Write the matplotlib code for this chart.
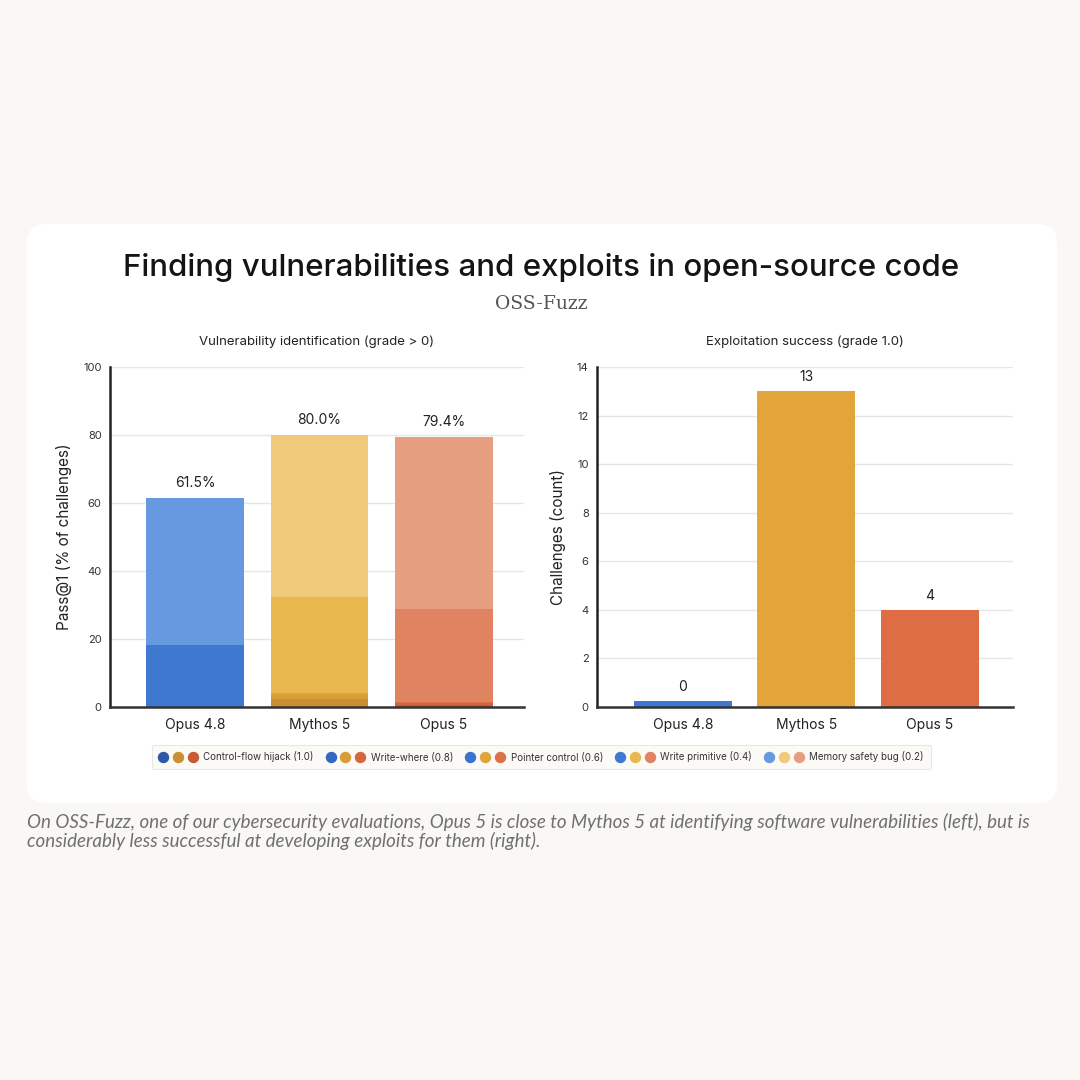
import numpy as np
import matplotlib
matplotlib.use("Agg")
import matplotlib.pyplot as plt
from matplotlib.patches import FancyBboxPatch
from matplotlib.lines import Line2D
from matplotlib.legend_handler import HandlerTuple

plt.rcParams['font.family'] = ['Inter', 'DejaVu Sans']

models = ["Opus 4.8", "Mythos 5", "Opus 5"]
tiers = ["Control-flow hijack (1.0)", "Write-where (0.8)", "Pointer control (0.6)",
         "Write primitive (0.4)", "Memory safety bug (0.2)"]

# pass@1 (% of challenges) by highest grade reached, bottom to top
control_flow = [0.0, 2.3, 0.7]
write_where = [0.0, 1.2, 0.6]
pointer_control = [0.0, 0.6, 0.3]
write_primitive = [18.2, 28.3, 27.2]
memory_safety = [43.3, 47.6, 50.6]

# exploitation success (grade 1.0), count
exploits = [0, 13, 4]

# colours per model, darkest tier first
tier_colors = [
    ["#2c5aa8", "#3366c2", "#3a72cf", "#3f78d0", "#6699e0"],
    ["#c98f30", "#d99d36", "#e0a53a", "#e8b84f", "#f0ca78"],
    ["#c95a35", "#d2663f", "#dc7047", "#e08360", "#e59f80"],
]
bar_colors = ["#3f78d4", "#e3a43a", "#df6d43"]

bg = "#f9f8f4"
fig = plt.figure(figsize=(10.8, 10.8), dpi=100, facecolor=bg)

card = FancyBboxPatch((0.025, 0.2565), 0.9537, 0.536, boxstyle="round,pad=0,rounding_size=0.018",
                      transform=fig.transFigure, facecolor="white", edgecolor="none", zorder=-10)
fig.patches.append(card)

fig.text(0.501, 1 - 268 / 1080, "Finding vulnerabilities and exploits in open-source code",
         ha="center", va="center", fontsize=22.5, fontweight=500, color="#141413")
fig.text(0.501, 1 - 304 / 1080, "OSS-Fuzz", ha="center", va="center", fontsize=13.5,
         color="#555555", family="DejaVu Serif")


def style_axes(ax, ymax, step):
    ax.set_facecolor("none")
    ax.set_ylim(0, ymax)
    ax.set_yticks(np.arange(0, ymax + 1, step))
    ax.grid(axis="y", color="#e6e6e6", lw=1)
    ax.set_axisbelow(True)
    for s in ["top", "right"]:
        ax.spines[s].set_visible(False)
    ax.spines["left"].set_linewidth(1.8)
    ax.spines["left"].set_color("#222222")
    ax.spines["bottom"].set_linewidth(1.8)
    ax.spines["bottom"].set_color("#333333")
    ax.tick_params(axis="y", length=0, labelsize=8, labelcolor="#333333", pad=6)
    ax.tick_params(axis="x", length=0, labelsize=10, labelcolor="#222222", pad=8)


# left: stacked vulnerability identification
ax1 = fig.add_axes([110 / 1080, 1 - 707 / 1080, 414 / 1080, 340 / 1080])
x = np.arange(len(models))
stack = [control_flow, write_where, pointer_control, write_primitive, memory_safety]
bottom = np.zeros(len(models))
for t, vals in enumerate(stack):
    cols = [tier_colors[m][t] for m in range(len(models))]
    ax1.bar(x, vals, width=0.787, bottom=bottom, color=cols, edgecolor="none", zorder=2)
    bottom = bottom + np.array(vals)
for xi, tot in zip(x, bottom):
    ax1.text(xi, tot + 2.4, f"{tot:.1f}%", ha="center", va="bottom", fontsize=10, color="#222222")
style_axes(ax1, 100, 20)
ax1.set_xlim(-0.683, 2.643)
ax1.set_xticks(x)
ax1.set_xticklabels(models)
ax1.set_ylabel("Pass@1 (% of challenges)", fontsize=11, color="#222222", labelpad=8)
ax1.set_title("Vulnerability identification (grade > 0)", fontsize=9.5, color="#222222", pad=16)

# right: exploitation success
ax2 = fig.add_axes([597 / 1080, 1 - 707 / 1080, 416 / 1080, 340 / 1080])
x2 = np.arange(len(models))
shown = [max(v, 0.25) for v in exploits]
ax2.bar(x2, shown, width=0.795, color=bar_colors, edgecolor="none", zorder=2)
for xi, v, h in zip(x2, exploits, shown):
    ax2.text(xi, h + 0.3, f"{v}", ha="center", va="bottom", fontsize=10, color="#222222")
style_axes(ax2, 14, 2)
ax2.set_xlim(-0.698, 2.677)
ax2.set_xticks(x2)
ax2.set_xticklabels(models)
ax2.set_ylabel("Challenges (count)", fontsize=11, color="#222222", labelpad=8)
ax2.set_title("Exploitation success (grade 1.0)", fontsize=9.5, color="#222222", pad=16)

# legend: three dots per tier
handles = []
for t in range(len(tiers)):
    handles.append(tuple(Line2D([], [], marker="o", ls="none", ms=7.2, color=tier_colors[m][t])
                         for m in range(len(models))))
leg = fig.legend(handles, tiers, loc="center", bbox_to_anchor=(0.501, 1 - 757 / 1080), ncol=5,
                 handler_map={tuple: HandlerTuple(ndivide=None, pad=0.6)}, handlelength=4.0,
                 handletextpad=0.6, columnspacing=1.3, fontsize=7.0, frameon=True, fancybox=True,
                 facecolor="#faf9f6", edgecolor="#e6e4de", borderpad=0.7)
leg.get_frame().set_linewidth(0.8)
for txt in leg.get_texts():
    txt.set_color("#333333")

fig.text(27 / 1080, 1 - 822 / 1080,
         "On OSS-Fuzz, one of our cybersecurity evaluations, Opus 5 is close to Mythos 5 at identifying software vulnerabilities (left), but is",
         ha="left", va="center", fontsize=13.5, style="italic", color="#707070", family="Lato")
fig.text(27 / 1080, 1 - 841 / 1080,
         "considerably less successful at developing exploits for them (right).",
         ha="left", va="center", fontsize=13.5, style="italic", color="#707070", family="Lato")

fig.savefig("out.png", dpi=100, facecolor=bg)
